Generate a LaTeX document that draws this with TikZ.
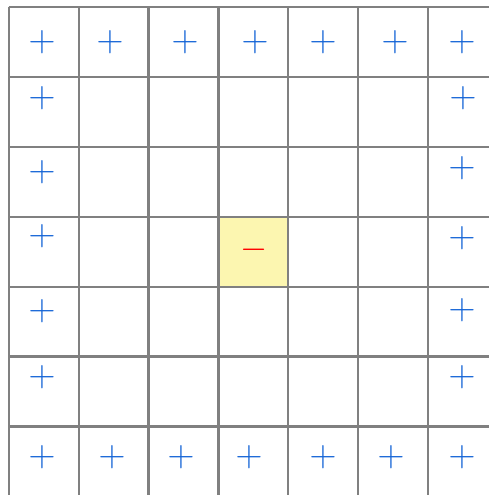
\documentclass[tikz,border=0pt]{standalone}
\definecolor{gridgray}{RGB}{128,128,128}
\definecolor{chargeblue}{RGB}{20,100,215}
\definecolor{chargered}{RGB}{255,0,0}
\definecolor{centeryellow}{RGB}{252,246,176}
\usepackage{tikz}
\usetikzlibrary{positioning}

\begin{document}
\begin{tikzpicture}[x=1pt,y=-1pt,
      gl/.style={draw=gridgray,line width=2.2pt},
      cell/.style={fill=centeryellow,minimum size=69.9pt,inner sep=0pt},
      poscharge/.style={text=chargeblue,font=\Huge,scale=1.5,transform shape,inner sep=0pt},
      negcharge/.style={text=chargered,font=\Huge,scale=1.4,transform shape,inner sep=0pt}]
      \useasboundingbox (0,0) rectangle (488,495);
      \fill[white] (0,0) rectangle (488,495);
      % centre cell
      \node[cell] (mid) at (253.6,251.9) {};
      % grid
      \foreach \k in {0,...,6} {
        \draw[gl] ({8.7+69.9*\k},7) -- ({8.7+69.9*\k},497);
        \draw[gl] (8.7,{7+69.9*\k}) -- (490,{7+69.9*\k});
      }
      % charges
      \node[negcharge] (m) at (254.5,250) {$-$};
      \foreach \x/\y [count=\i] in {42/42,110/42,185/42,255/42,323/42,395/42,462/42,
          42/98,42/172,42/236,42/311,42/377,
          463/98,462/168,462/238,462/310,462/377,
          42/457,112/457,181/457,249/457,323/457,391/457,462/457} {
        \node[poscharge] (p\i) at (\x,\y) {$+$};
      }
    \end{tikzpicture}
\end{document}
